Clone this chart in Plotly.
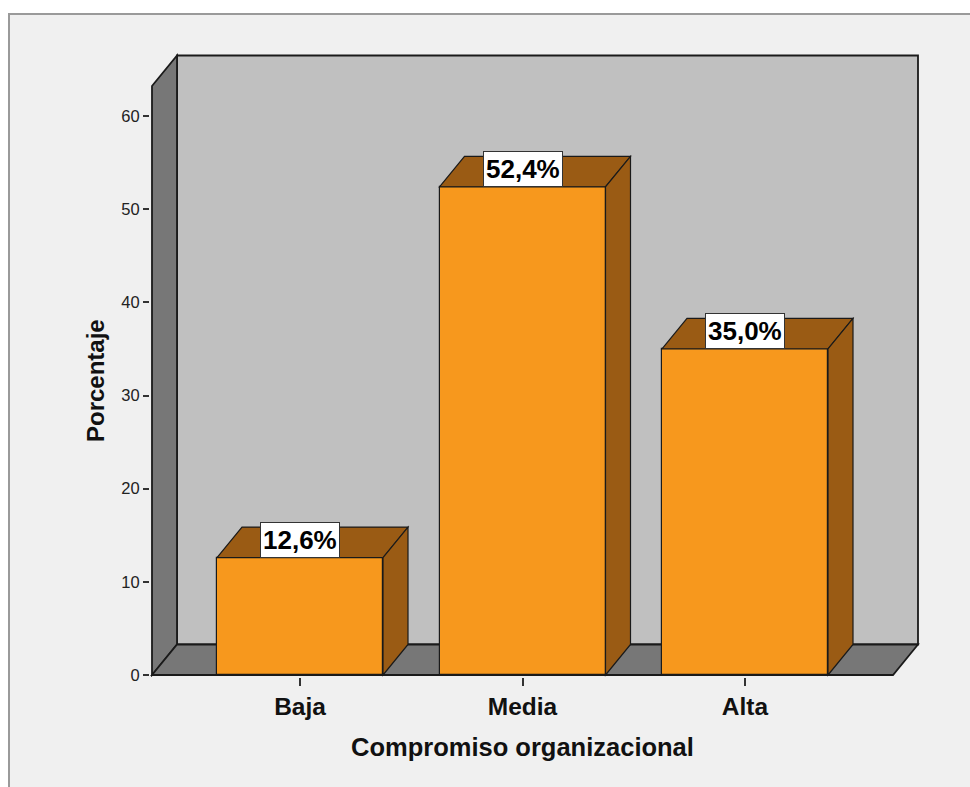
import plotly.graph_objects as go

# ---- data ----
categories = ["Baja", "Media", "Alta"]
percentages = [12.6, 52.4, 35.0]
y_ticks = [0, 10, 20, 30, 40, 50, 60]
x_title = "Compromiso organizacional"
y_title = "Porcentaje"

# ---- styling / geometry constants ----
ORANGE = "#f7981d"
BROWN = "#9a5b14"
WALL_GRAY = "#777777"
BACK_GRAY = "#c0c0c0"
BG = "#f0f0f0"
FONT = "Liberation Sans, Arial, sans-serif"

W, H = 970, 787
ML, MR, MT, MB = 150, 50, 51, 110
PX_PER_X = 222.5            # pixels per category step
PX_PER_Y = 559 / 60.0       # pixels per percent
plot_w = W - ML - MR
plot_h = H - MT - MB
x0 = -150 / PX_PER_X
x_range = [x0, x0 + plot_w / PX_PER_X]
y0 = -2 / PX_PER_Y
y_range = [y0, y0 + plot_h / PX_PER_Y]

DX = 25 / PX_PER_X          # depth offset (x units)
DY = 30.5 / PX_PER_Y        # depth offset (y units)
BAR_W = 166 / PX_PER_X
XL = -148 / PX_PER_X        # floor front left
XR = len(categories) - 1 + 148 / PX_PER_X
YT = 589 / PX_PER_Y         # side wall front top


def poly(pts):
    return "M " + " L ".join(f"{a},{b}" for a, b in pts) + " Z"


xs = list(range(len(categories)))

fig = go.Figure()
fig.add_trace(go.Bar(
    x=xs, y=percentages, width=BAR_W,
    marker=dict(color=ORANGE, line=dict(color="#1a1a1a", width=1.2)),
    hoverinfo="skip", showlegend=False,
))

shapes = []
# outer frame
shapes.append(dict(type="rect", xref="paper", yref="paper",
                   x0=(9 - ML) / plot_w, x1=(W + 20 - ML) / plot_w,
                   y0=-(H + 20 - (H - MB)) / plot_h, y1=(H - MB - 14) / plot_h,
                   fillcolor=BG, line=dict(color="#9a9a9a", width=2), layer="below"))
# back wall
shapes.append(dict(type="path", xref="x", yref="y", layer="below",
                   path=poly([(XL + DX, DY), (XR + DX, DY), (XR + DX, YT + DY), (XL + DX, YT + DY)]),
                   fillcolor=BACK_GRAY, line=dict(color="#1a1a1a", width=1.8)))
# side wall
shapes.append(dict(type="path", xref="x", yref="y", layer="below",
                   path=poly([(XL, 0), (XL, YT), (XL + DX, YT + DY), (XL + DX, DY)]),
                   fillcolor=WALL_GRAY, line=dict(color="#1a1a1a", width=1.8)))
# floor
shapes.append(dict(type="path", xref="x", yref="y", layer="below",
                   path=poly([(XL, 0), (XR, 0), (XR + DX, DY), (XL + DX, DY)]),
                   fillcolor=WALL_GRAY, line=dict(color="#1a1a1a", width=1.8)))

# bar tops and sides
for xi, v in zip(xs, percentages):
    l, r = xi - BAR_W / 2, xi + BAR_W / 2
    shapes.append(dict(type="path", xref="x", yref="y", layer="above",
                       path=poly([(l, v), (l + DX, v + DY), (r + DX, v + DY), (r, v)]),
                       fillcolor=BROWN, line=dict(color="#1a1a1a", width=1.2)))
    shapes.append(dict(type="path", xref="x", yref="y", layer="above",
                       path=poly([(r, 0), (r + DX, DY), (r + DX, v + DY), (r, v)]),
                       fillcolor=BROWN, line=dict(color="#1a1a1a", width=1.2)))

annotations = []
for xi, v in zip(xs, percentages):
    annotations.append(dict(
        x=xi, y=v, xref="x", yref="y", xanchor="center", yanchor="bottom",
        text=f"{v:.1f}%".replace(".", ","), showarrow=False,
        font=dict(family=FONT, size=26, color="black", weight="bold"),
        bgcolor="white", bordercolor="#333333", borderwidth=1, borderpad=2,
    ))

# axis titles
annotations.append(dict(
    x=1, y=(H - MB - 747) / plot_h, xref="x", yref="paper",
    xanchor="center", yanchor="middle", text=x_title, showarrow=False,
    font=dict(family=FONT, size=25.5, color="#111111", weight="bold")))
annotations.append(dict(
    x=(95 - ML) / plot_w, y=(675 - 381) / PX_PER_Y, xref="paper", yref="y",
    xanchor="center", yanchor="middle", text=y_title, showarrow=False, textangle=-90,
    font=dict(family=FONT, size=24, color="#111111", weight="bold")))

fig.update_layout(
    width=W, height=H,
    margin=dict(l=ML, r=MR, t=MT, b=MB, pad=0),
    paper_bgcolor="white", plot_bgcolor=BG,
    shapes=shapes, annotations=annotations,
    showlegend=False, bargap=0,
    xaxis=dict(range=x_range, tickmode="array", tickvals=xs, ticktext=categories,
               ticks="outside", ticklen=8, tickwidth=1.5, tickcolor="#333333",
               showgrid=False, zeroline=False, showline=False, fixedrange=True,
               tickfont=dict(family=FONT, size=24.5, color="#111111", weight="bold")),
    yaxis=dict(range=y_range, tickmode="array", tickvals=y_ticks,
               ticktext=[str(t) for t in y_ticks],
               ticks="outside", ticklen=6, tickwidth=1.5, tickcolor="#333333",
               showgrid=False, zeroline=False, showline=False, fixedrange=True,
               tickfont=dict(family=FONT, size=16.5, color="#222222")),
)

fig.write_html("out.html")
